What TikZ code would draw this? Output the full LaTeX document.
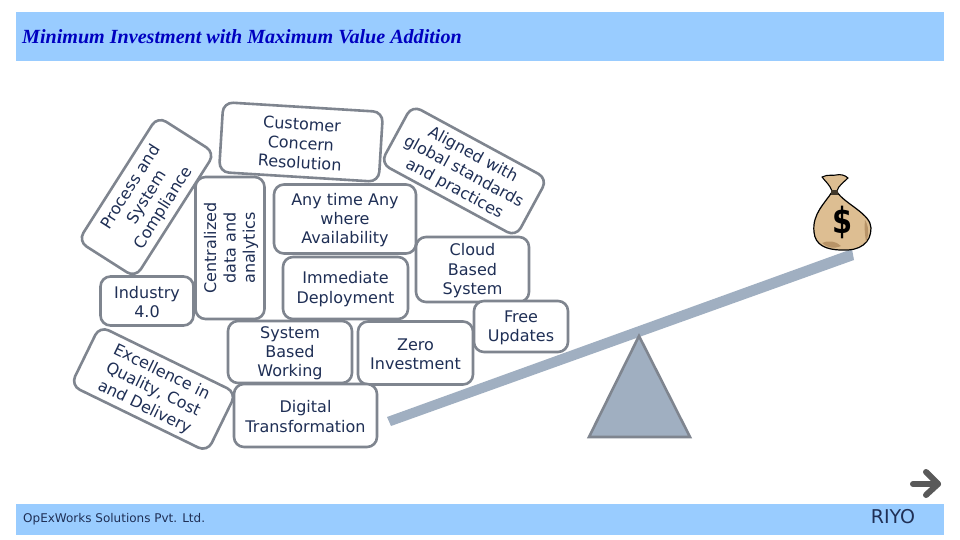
\documentclass[tikz,border=0pt]{standalone}
\usepackage{fontspec}
\setmainfont{DejaVu Sans}
\newfontfamily\titlefont{Liberation Serif}
\definecolor{band}{HTML}{99CCFF}
\definecolor{edge}{HTML}{7F858F}
\definecolor{inktext}{HTML}{1F2F55}
\definecolor{steel}{HTML}{A0AFC1}
\definecolor{bagtan}{HTML}{DDBE92}
\definecolor{bagshade}{HTML}{B89468}
\definecolor{titleblue}{HTML}{0000C0}
\newcommand\TopS{\rule{0pt}{14.5pt}}
\tikzset{
  box/.style={draw=edge,line width=2.6pt,rounded corners=10pt,fill=white,align=center,
    text=inktext,inner sep=0pt,font=\fontsize{16}{19.4}\selectfont},
  bandbox/.style={fill=band,draw=none,inner sep=0pt},
}
\begin{document}
\begin{tikzpicture}[x=1pt,y=-1pt]
\useasboundingbox (0,0) rectangle (960,540);
\fill[white] (0,0) rectangle (960,540);
\node[bandbox,minimum width=928pt,minimum height=49pt] (head) at (480,36.5) {};
\node[bandbox,minimum width=928pt,minimum height=31pt] (foot) at (480,519.5) {};
\node[anchor=west,inner sep=0pt,text=titleblue,font=\titlefont\bfseries\itshape\fontsize{20.1}{22}\selectfont] (title) at (22,37) {Minimum Investment with Maximum Value Addition};
\node[anchor=west,inner sep=0pt,text=inktext,font=\fontsize{12}{14}\selectfont] (company) at (23,519.5) {OpExWorks Solutions Pvt. Ltd.};
\node[inner sep=0pt,text=inktext,font=\fontsize{19}{22}\selectfont] (riyo) at (893,516.5) {RIYO};
% seesaw
\fill[steel] (387,417) -- (852,249) -- (854,260) -- (391,426) -- cycle;
\draw[edge,fill=steel,line width=2.6pt,line join=miter] (639,336) -- (690,437) -- (589,437) -- cycle;
% boxes
\node[box,minimum width=148pt,minimum height=68pt,rotate=57.5] (process) at (146.5,197) {\TopS Process and\\System\\Compliance};
\node[box,minimum width=142pt,minimum height=69pt,rotate=90] (central) at (230,248) {\TopS Centralized\\data and\\analytics};
\node[box,minimum width=93pt,minimum height=49pt] (industry) at (147,301) {\TopS Industry\\4.0};
\node[box,minimum width=152pt,minimum height=66pt,rotate=-26] (excel) at (153.5,389) {\TopS Excellence in\\Quality, Cost\\and Delivery};
\node[box,minimum width=160pt,minimum height=70pt,rotate=-3.5] (customer) at (301,142) {\TopS Customer\\Concern\\Resolution};
\node[box,minimum width=154pt,minimum height=66pt,rotate=-28.5] (aligned) at (464,171) {\TopS Aligned with\\global standards\\and practices};
\node[box,minimum width=142pt,minimum height=69pt] (anytime) at (345,219) {\TopS Any time Any\\where\\Availability};
\node[box,minimum width=125pt,minimum height=62pt] (immediate) at (345.5,288) {\TopS Immediate\\Deployment};
\node[box,minimum width=115pt,minimum height=63pt] (zero) at (415.5,353) {\TopS Zero\\Investment};
\node[box,minimum width=124pt,minimum height=62pt] (system) at (290,352) {\TopS System\\Based\\Working};
\node[box,minimum width=143pt,minimum height=63pt] (digital) at (305.5,415.5) {\TopS Digital\\Transformation};
\node[box,minimum width=113pt,minimum height=65pt] (cloud) at (472.5,269.5) {\TopS Cloud\\Based\\System};
\node[box,minimum width=94pt,minimum height=51pt] (free) at (521,326.5) {\TopS Free\\Updates};
% money bag
\draw[black,line width=1.2pt,fill=bagtan,line join=round]
  (832,192) .. controls (825,203) and (812,214) .. (814,232)
  .. controls (815,245) and (826,250) .. (842,250)
  .. controls (860,251) and (871,243) .. (871,228)
  .. controls (871,214) and (845,204) .. (837,192) -- cycle;
\fill[bagshade] (822,243) .. controls (828,240) and (836,241) .. (841,246)
  .. controls (834,249) and (827,248) .. (822,243) -- cycle;
\fill[bagshade] (865,220) .. controls (869,226) and (869,236) .. (866,242)
  .. controls (865,235) and (864,227) .. (865,220) -- cycle;
\draw[black,line width=1.1pt,fill=bagtan,line join=round]
  (832,191) .. controls (830,185) and (825,181) .. (822,177)
  .. controls (828,174) and (833,176) .. (836,175)
  .. controls (840,174) and (845,175) .. (848,178)
  .. controls (844,182) and (838,186) .. (837,191) -- cycle;
\fill[black!70!bagtan] (831,190) rectangle (838,195);
\node[inner sep=0pt,text=black,font=\bfseries\fontsize{36}{36}\selectfont,xscale=0.8] (dollar) at (843,222) {\$};
% arrow
\coordinate (arrowtail) at (913,484);
\coordinate (arrowtip) at (938,484);
\draw[black!65,line width=6pt,line cap=round,line join=round] (arrowtail) -- (arrowtip);
\draw[black!65,line width=6pt,line cap=round,line join=round] (926,472) -- (arrowtip) -- (926,495);
\end{tikzpicture}
\end{document}
